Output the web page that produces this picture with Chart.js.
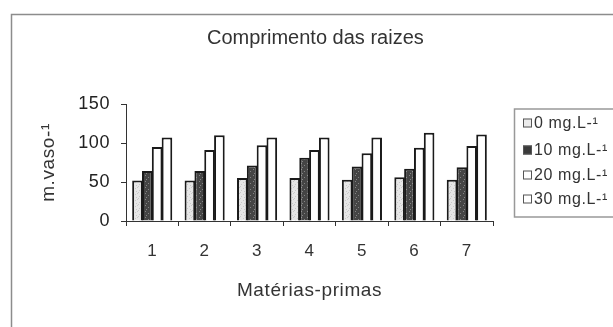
<!DOCTYPE html>
<html>
<head>
<meta charset="utf-8">
<script src="https://cdn.jsdelivr.net/npm/chart.js@4/dist/chart.umd.min.js"></script>
<style>
  html, body { margin: 0; padding: 0; background: #fff; }
  #wrap { width: 613px; height: 327px; position: relative; }
</style>
</head>
<body>
<div id="wrap"><canvas id="c" width="613" height="327"></canvas></div>
<script>
// Root length per raw material, for four doses
const categories = ['1', '2', '3', '4', '5', '6', '7'];
const seriesNames = ['0 mg.L-\u00b9', '10 mg.L-\u00b9', '20 mg.L-\u00b9', '30 mg.L-\u00b9'];
const dose0  = [52, 52, 55, 55, 53, 56, 53];
const dose10 = [64, 64, 71, 81, 70, 67, 69];
const dose20 = [95, 91, 97, 91, 87, 94, 96];
const dose30 = [107, 110, 107, 107, 107, 113, 111];
const yTicks = [0, 50, 100, 150];
const chartTitle = 'Comprimento das raizes';
const yTitle = 'm.vaso-\u00b9';
const xTitle = 'Matérias-primas';

const FONT = '"Liberation Sans", Arial, sans-serif';
const INK = '#333';

// Stippled fills for the two shaded series
function stipple(base, dot, spots) {
  const p = document.createElement('canvas');
  p.width = 6; p.height = 6;
  const g = p.getContext('2d');
  g.fillStyle = base; g.fillRect(0, 0, 6, 6);
  g.fillStyle = dot;
  spots.forEach(([x, y]) => g.fillRect(x, y, 1, 1));
  return g.createPattern(p, 'repeat');
}
const ctx = document.getElementById('c').getContext('2d');
const lightFill = stipple('#e6e6e6', '#c8c8c8', [[0,0],[3,2],[1,4],[4,5],[5,1]]);
const darkFill  = stipple('#454545', '#858585', [[1,1],[4,3],[2,5]]);
const fills = [lightFill, darkFill, '#ffffff', '#ffffff'];
const legendFills = ['#ececec', '#3a3a3a', '#ffffff', '#ffffff'];
const values = [dose0, dose10, dose20, dose30];

// Slightly airy lettering for the axis labels
const spacing = {
  id: 'spacing',
  beforeInit(chart) { chart.ctx.letterSpacing = '0.6px'; },
  beforeDraw(chart) { chart.ctx.letterSpacing = '0.6px'; }
};

// Frame, title and the boxed legend on the right
const decor = {
  id: 'decor',
  afterDraw(chart) {
    const c = chart.ctx;
    c.save();
    c.strokeStyle = '#8c8c8c';
    c.lineWidth = 1.5;
    c.beginPath();
    c.moveTo(11.5, 327); c.lineTo(11.5, 14.5); c.lineTo(613, 14.5);
    c.stroke();

    c.letterSpacing = '0px';
    c.fillStyle = INK;
    c.font = '20px ' + FONT;
    c.textAlign = 'left';
    c.textBaseline = 'middle';
    c.fillText(chartTitle, 207, 38);

    c.letterSpacing = '0.6px';
    c.strokeStyle = '#999';
    c.lineWidth = 1.5;
    c.strokeRect(514.5, 109, 104, 108);
    const rows = [123, 150, 175, 199];
    c.font = '16px ' + FONT;
    seriesNames.forEach((n, i) => {
      c.fillStyle = legendFills[i];
      c.fillRect(523, rows[i] - 4.5, 9, 9);
      c.strokeStyle = '#555';
      c.lineWidth = 1;
      c.strokeRect(523.5, rows[i] - 4, 8, 8);
      c.fillStyle = INK;
      c.fillText(n, 534, rows[i] + 1);
    });
    c.restore();
  }
};

new Chart(ctx, {
  type: 'bar',
  data: {
    labels: categories,
    datasets: values.map((v, i) => ({
      label: seriesNames[i],
      data: v,
      backgroundColor: fills[i],
      borderColor: '#1a1a1a',
      borderWidth: 2,
      categoryPercentage: 0.75,
      barPercentage: 1.08
    }))
  },
  options: {
    responsive: false,
    animation: false,
    devicePixelRatio: 1,
    layout: { padding: { left: 37, right: 120, top: 104, bottom: 1 } },
    plugins: { legend: { display: false }, title: { display: false }, tooltip: { enabled: false } },
    scales: {
      x: {
        grid: { display: true, drawOnChartArea: false, drawTicks: true, tickLength: 5, color: '#333', offset: true },
        border: { display: true, color: '#333', width: 1 },
        ticks: { color: INK, font: { family: FONT, size: 17 }, padding: 15 },
        title: { display: true, text: xTitle, color: INK, font: { family: FONT, size: 19 }, padding: { top: 0, bottom: 24 } },
        afterFit(s) { s.height = 105; }
      },
      y: {
        min: 0, max: 150,
        afterBuildTicks(s) { s.ticks = yTicks.map(v => ({ value: v })); },
        grid: { display: true, drawOnChartArea: false, drawTicks: true, tickLength: 5, color: '#333' },
        border: { display: true, color: '#333', width: 1 },
        ticks: { color: '#222', font: { family: FONT, size: 18 }, padding: 11 },
        title: { display: true, text: yTitle, color: INK, font: { family: FONT, size: 19 }, padding: 0 },
        afterFit(s) { s.width = 89; }
      }
    }
  },
  plugins: [spacing, decor]
});
</script>
</body>
</html>
